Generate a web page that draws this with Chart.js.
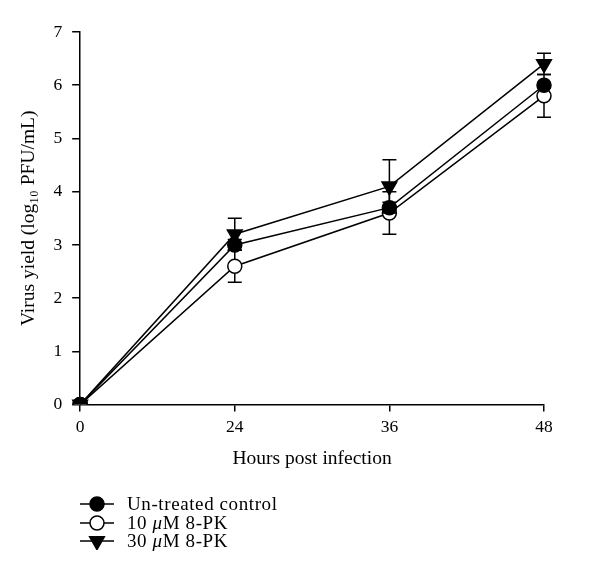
<!DOCTYPE html>
<html><head><meta charset="utf-8">
<script src="https://cdn.jsdelivr.net/npm/chart.js@4"></script>
<style>
html,body{margin:0;padding:0;background:#fff;}
#wrap{position:relative;width:600px;height:583px;}
#legend{position:absolute;left:80px;top:495px;font-family:"Liberation Serif","Times New Roman",serif;font-size:19px;letter-spacing:0.6px;color:#000;line-height:18.5px;}
.item{display:flex;align-items:center;height:18.5px;white-space:nowrap;}
.item canvas{margin-right:13px;display:block;}
</style></head><body>
<div id="wrap"><canvas id="c" width="600" height="583"></canvas><div id="legend"></div></div>
<script>
// ---- data ----
const hours = ['0', '24', '36', '48'];
const seriesNames = ['Un-treated control', '10 <i>μ</i>M 8-PK', '30 <i>μ</i>M 8-PK'];
const seriesLabels = ['Un-treated control', '10 μM 8-PK', '30 μM 8-PK'];
const untreated = [0, 3.0, 3.7, 6.0];
const pk10 = [0, 2.6, 3.6, 5.8];
const pk30 = [0, 3.2, 4.1, 6.4];
const untreatedErr = [0, 0.1, 0.1, 0.05];
const pk10Err = [0, 0.3, 0.4, 0.4];
const pk30Err = [0, 0.3, 0.5, 0.2];
const yMin = 0, yMax = 7, yStep = 1;

const FONT = '"Liberation Serif", "Times New Roman", serif';
const errors = [untreatedErr, pk10Err, pk30Err];

const markerStyles = [
  {pointStyle: 'circle', radius: 7, bg: '#000', rot: 0},
  {pointStyle: 'circle', radius: 7, bg: '#fff', rot: 0},
  {pointStyle: 'triangle', radius: 8.5, bg: '#000', rot: 180}
];

const errorBars = {
  id: 'errorBars',
  beforeDatasetDraw(chart, args) {
    const i = args.index;
    const errs = errors[i];
    if (!errs) return;
    const ctx = chart.ctx;
    const ys = chart.scales.y;
    const xs = chart.scales.x;
    const vals = chart.data.datasets[i].data;
    ctx.save();
    ctx.strokeStyle = '#000';
    ctx.lineWidth = 1.5;
    vals.forEach((v, k) => {
      const e = errs[k];
      if (!e) return;
      const x = xs.getPixelForValue(k);
      const yt = ys.getPixelForValue(v + e);
      const yb = ys.getPixelForValue(v - e);
      ctx.beginPath();
      ctx.moveTo(x, yt); ctx.lineTo(x, yb);
      ctx.moveTo(x - 7, yt); ctx.lineTo(x + 7, yt);
      ctx.moveTo(x - 7, yb); ctx.lineTo(x + 7, yb);
      ctx.stroke();
    });
    ctx.restore();
  }
};

function ds(label, data, m) {
  return {
    label, data,
    borderColor: '#000', borderWidth: 1.5,
    pointStyle: m.pointStyle, pointRadius: m.radius, pointRotation: m.rot,
    pointBackgroundColor: m.bg, pointBorderColor: '#000', pointBorderWidth: 1.5,
    pointHoverRadius: m.radius, tension: 0, fill: false
  };
}

const chart = new Chart(document.getElementById('c'), {
  type: 'line',
  data: {
    labels: hours,
    datasets: [
      ds(seriesLabels[0], untreated, markerStyles[0]),
      ds(seriesLabels[1], pk10, markerStyles[1]),
      ds(seriesLabels[2], pk30, markerStyles[2])
    ]
  },
  options: {
    responsive: false,
    devicePixelRatio: 1,
    animation: false,
    events: [],
    layout: {padding: {left: 17, right: 56, top: 32, bottom: 112}},
    plugins: {legend: {display: false}, tooltip: {enabled: false}},
    scales: {
      x: {
        type: 'category', offset: false,
        border: {color: '#000', width: 1.5},
        grid: {display: true, drawOnChartArea: false, drawTicks: true, tickLength: 7, color: '#000', lineWidth: 1.5},
        ticks: {color: '#000', font: {family: FONT, size: 17.5}, padding: 5, maxRotation: 0, autoSkip: false},
        title: {display: true, text: 'Hours post infection', color: '#000', font: {family: FONT, size: 19.5}, padding: {top: 5, bottom: 0}}
      },
      y: {
        min: yMin, max: yMax,
        border: {color: '#000', width: 1.5},
        grid: {display: true, drawOnChartArea: false, drawTicks: true, tickLength: 8, color: '#000', lineWidth: 1.5},
        ticks: {stepSize: yStep, color: '#000', font: {family: FONT, size: 17.5}, padding: 10},
        title: {display: true, text: 'Virus yield (log₁₀ PFU/mL)', color: '#000', font: {family: FONT, size: 19.5}, padding: {top: 0, bottom: 3}}
      }
    }
  },
  plugins: [errorBars]
});

// HTML legend built from the chart's datasets
const legend = document.getElementById('legend');
chart.data.datasets.forEach((d, i) => {
  const row = document.createElement('div');
  row.className = 'item';
  const cv = document.createElement('canvas');
  cv.width = 34; cv.height = 18;
  const c = cv.getContext('2d');
  c.strokeStyle = '#000'; c.lineWidth = 1.5;
  c.beginPath(); c.moveTo(0, 9); c.lineTo(34, 9); c.stroke();
  c.fillStyle = d.pointBackgroundColor;
  Chart.helpers.drawPoint(c, {pointStyle: d.pointStyle, rotation: d.pointRotation, radius: d.pointRadius, borderWidth: 1.5}, 17, 9);
  row.appendChild(cv);
  const sp = document.createElement('span');
  sp.innerHTML = seriesNames[i];
  row.appendChild(sp);
  legend.appendChild(row);
});
</script>
</body></html>
